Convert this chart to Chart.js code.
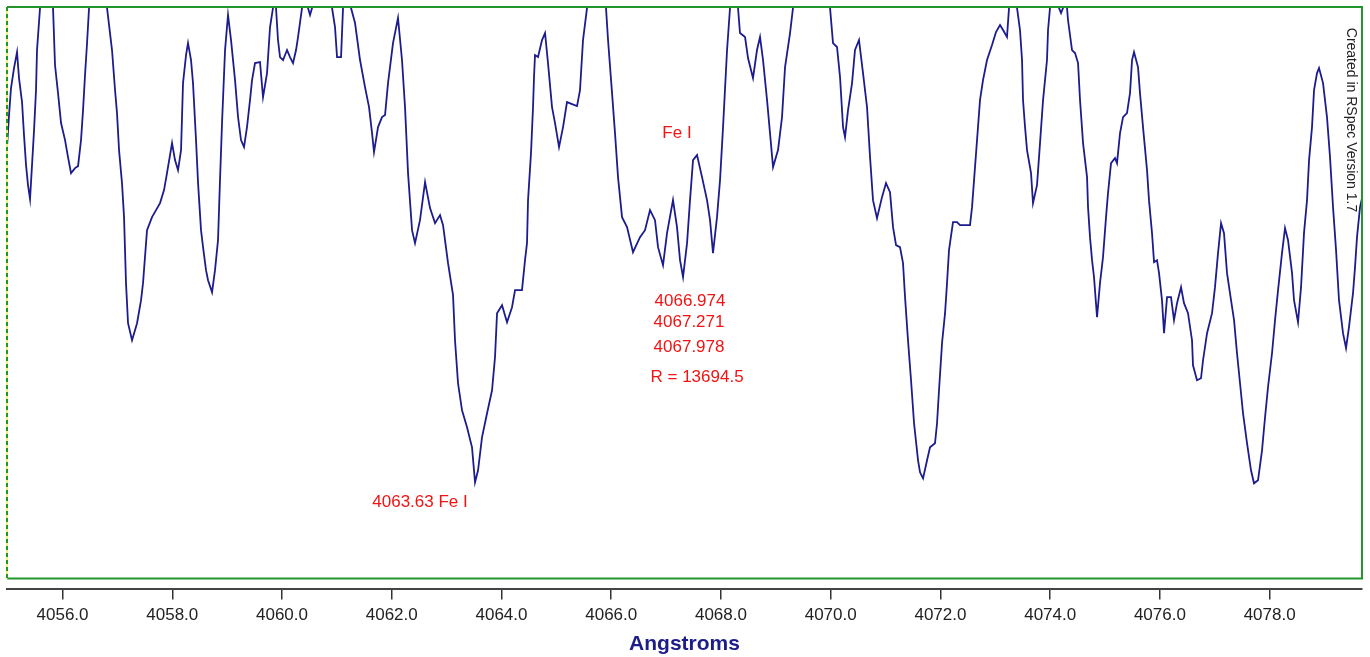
<!DOCTYPE html>
<html>
<head>
<meta charset="utf-8">
<script src="https://cdn.jsdelivr.net/npm/chart.js@4/dist/chart.umd.min.js"></script>
<style>
  html, body { margin: 0; padding: 0; background: #fff; }
  #wrap { width: 1370px; height: 657px; }
</style>
</head>
<body>
<div id="wrap"><canvas id="spec" width="1370" height="657"></canvas></div>
<script>
// Spectrum (wavelength in Angstroms, flux in arbitrary units)
const wavelength = [
  4054.988, 4055.025, 4055.061, 4055.116, 4055.171, 4055.207, 4055.262, 4055.298, 4055.335, 4055.371,
  4055.408, 4055.444, 4055.481, 4055.517, 4055.535, 4055.590, 4055.699, 4055.827, 4055.863, 4055.918,
  4055.973, 4056.046, 4056.100, 4056.155, 4056.228, 4056.283, 4056.337, 4056.374, 4056.410, 4056.447,
  4056.483, 4056.647, 4056.811, 4056.902, 4056.957, 4056.993, 4057.030, 4057.084, 4057.121, 4057.157,
  4057.194, 4057.267, 4057.358, 4057.431, 4057.467, 4057.540, 4057.631, 4057.704, 4057.777, 4057.850,
  4057.904, 4057.959, 4057.996, 4058.050, 4058.105, 4058.160, 4058.196, 4058.251, 4058.287, 4058.342,
  4058.378, 4058.433, 4058.470, 4058.524, 4058.561, 4058.615, 4058.652, 4058.725, 4058.779, 4058.834,
  4058.870, 4058.907, 4058.962, 4059.016, 4059.071, 4059.144, 4059.199, 4059.253, 4059.308, 4059.362,
  4059.417, 4059.454, 4059.508, 4059.599, 4059.654, 4059.691, 4059.727, 4059.782, 4059.836, 4059.864,
  4059.891, 4059.927, 4059.964, 4060.019, 4060.092, 4060.146, 4060.201, 4060.256, 4060.292, 4060.365,
  4060.420, 4060.474, 4060.511, 4060.547, 4060.602, 4060.784, 4060.912, 4060.966, 4061.003, 4061.076,
  4061.112, 4061.185, 4061.258, 4061.331, 4061.422, 4061.513, 4061.586, 4061.641, 4061.677, 4061.750,
  4061.823, 4061.878, 4061.932, 4062.023, 4062.114, 4062.187, 4062.242, 4062.297, 4062.370, 4062.424,
  4062.515, 4062.607, 4062.698, 4062.789, 4062.880, 4062.935, 4063.026, 4063.117, 4063.153, 4063.208,
  4063.281, 4063.372, 4063.463, 4063.518, 4063.573, 4063.645, 4063.737, 4063.828, 4063.882, 4063.919,
  4064.010, 4064.101, 4064.192, 4064.247, 4064.374, 4064.429, 4064.465, 4064.484, 4064.538, 4064.575,
  4064.593, 4064.611, 4064.666, 4064.739, 4064.794, 4064.848, 4064.921, 4064.976, 4065.049, 4065.122,
  4065.194, 4065.286, 4065.377, 4065.431, 4065.486, 4065.559, 4065.723, 4065.905, 4065.942, 4066.015,
  4066.069, 4066.124, 4066.197, 4066.288, 4066.397, 4066.525, 4066.616, 4066.707, 4066.798, 4066.853,
  4066.944, 4067.017, 4067.126, 4067.199, 4067.254, 4067.309, 4067.382, 4067.436, 4067.491, 4067.564,
  4067.655, 4067.746, 4067.801, 4067.855, 4067.928, 4067.983, 4068.038, 4068.111, 4068.165, 4068.238,
  4068.311, 4068.347, 4068.439, 4068.493, 4068.584, 4068.657, 4068.712, 4068.767, 4068.840, 4068.894,
  4068.949, 4069.040, 4069.113, 4069.168, 4069.259, 4069.313, 4069.660, 4069.988, 4070.042, 4070.115,
  4070.170, 4070.225, 4070.261, 4070.316, 4070.389, 4070.443, 4070.516, 4070.589, 4070.662, 4070.717,
  4070.771, 4070.844, 4070.935, 4071.008, 4071.081, 4071.136, 4071.191, 4071.263, 4071.318, 4071.355,
  4071.409, 4071.464, 4071.519, 4071.592, 4071.628, 4071.683, 4071.756, 4071.810, 4071.901, 4071.938,
  4071.974, 4072.029, 4072.084, 4072.120, 4072.156, 4072.229, 4072.302, 4072.357, 4072.539, 4072.576,
  4072.630, 4072.667, 4072.721, 4072.776, 4072.849, 4072.940, 4073.013, 4073.086, 4073.141, 4073.213,
  4073.250, 4073.323, 4073.396, 4073.450, 4073.487, 4073.505, 4073.542, 4073.578, 4073.651, 4073.687,
  4073.760, 4073.815, 4073.870, 4073.942, 4073.961, 4073.997, 4074.088, 4074.161, 4074.198, 4074.234,
  4074.271, 4074.307, 4074.325, 4074.398, 4074.453, 4074.508, 4074.544, 4074.599, 4074.672, 4074.690,
  4074.726, 4074.763, 4074.799, 4074.854, 4074.908, 4074.963, 4075.018, 4075.054, 4075.109, 4075.182,
  4075.218, 4075.273, 4075.328, 4075.400, 4075.455, 4075.492, 4075.528, 4075.601, 4075.637, 4075.692,
  4075.765, 4075.801, 4075.856, 4075.893, 4075.947, 4075.984, 4076.038, 4076.075, 4076.130, 4076.202,
  4076.257, 4076.312, 4076.385, 4076.439, 4076.512, 4076.585, 4076.603, 4076.676, 4076.749, 4076.786,
  4076.859, 4076.950, 4077.004, 4077.059, 4077.114, 4077.168, 4077.223, 4077.296, 4077.351, 4077.405,
  4077.460, 4077.515, 4077.588, 4077.660, 4077.715, 4077.788, 4077.861, 4077.916, 4077.970, 4078.043,
  4078.098, 4078.153, 4078.225, 4078.280, 4078.335, 4078.408, 4078.444, 4078.517, 4078.572, 4078.626,
  4078.681, 4078.718, 4078.772, 4078.809, 4078.863, 4078.900, 4078.973, 4079.045, 4079.100, 4079.155,
  4079.210, 4079.264, 4079.337, 4079.392, 4079.446, 4079.519, 4079.556, 4079.592, 4079.647, 4079.683
];

const flux = [
  431, 463, 490, 510, 526, 500, 476, 443, 413, 393,
  379, 413, 448, 488, 528, 570, 608, 570, 513, 485,
  455, 438, 421, 405, 410, 412, 438, 468, 503, 535,
  570, 618, 570, 528, 488, 465, 428, 395, 361, 295,
  255, 238, 255, 278, 295, 348, 361, 368, 375, 388,
  405, 423, 435, 418, 408, 428, 495, 523, 535, 518,
  495, 438, 395, 348, 331, 308, 298, 286, 308, 338,
  398, 455, 528, 563, 538, 498, 461, 438, 431, 451,
  478, 498, 515, 516, 481, 493, 505, 551, 570, 583,
  570, 538, 521, 518, 528, 521, 515, 528, 541, 570,
  583, 570, 563, 570, 593, 608, 570, 551, 521, 521,
  570, 593, 570, 555, 518, 491, 471, 445, 426, 451,
  461, 463, 495, 535, 560, 518, 471, 405, 348, 335,
  358, 396, 370, 355, 363, 353, 315, 283, 238, 195,
  168, 151, 131, 96, 108, 141, 165, 188, 221, 265,
  273, 256, 271, 288, 288, 318, 335, 378, 425, 471,
  501, 523, 521, 538, 545, 515, 471, 455, 431, 451,
  476, 474, 472, 488, 538, 570, 618, 570, 538, 485,
  445, 401, 361, 351, 326, 341, 348, 368, 358, 331,
  313, 345, 378, 351, 318, 301, 335, 378, 418, 423,
  401, 378, 358, 325, 361, 398, 451, 528, 570, 593,
  570, 545, 541, 520, 500, 528, 541, 518, 478, 445,
  411, 428, 461, 511, 545, 570, 638, 570, 535, 531,
  501, 451, 441, 468, 495, 528, 538, 505, 471, 421,
  378, 360, 381, 395, 386, 351, 333, 331, 315, 281,
  238, 198, 155, 118, 106, 100, 118, 131, 135, 155,
  188, 235, 265, 295, 328, 356, 356, 353, 353, 371,
  411, 438, 478, 498, 518, 533, 546, 553, 548, 541,
  570, 588, 570, 548, 518, 478, 451, 428, 405, 375,
  393, 435, 478, 518, 548, 570, 593, 570, 565, 570,
  581, 570, 558, 528, 525, 515, 478, 435, 401, 371,
  341, 318, 301, 261, 295, 321, 361, 385, 415, 420,
  415, 445, 461, 465, 485, 518, 526, 511, 485, 451,
  408, 378, 345, 316, 318, 305, 278, 245, 281, 281,
  258, 275, 291, 275, 265, 238, 213, 198, 200, 218,
  245, 265, 291, 325, 355, 345, 305, 278, 258, 225,
  195, 165, 135, 108, 95, 98, 128, 161, 191, 225,
  258, 288, 325, 350, 338, 305, 278, 256, 291, 345,
  378, 418, 451, 488, 505, 510, 495, 461, 421, 371,
  328, 278, 245, 230, 251, 285, 311, 341, 371, 380
];

const tickValues = [4056, 4058, 4060, 4062, 4064, 4066, 4068, 4070, 4072, 4074, 4076, 4078];

// red line identifications, anchored in data units
const notes = [
  { text: "Fe I", wl: 4067.199, at: 445 },
  { text: "4066.974", wl: 4067.436, at: 277 },
  { text: "4067.271", wl: 4067.418, at: 256 },
  { text: "4067.978", wl: 4067.418, at: 231 },
  { text: "R = 13694.5", wl: 4067.564, at: 201 },
  { text: "4063.63 Fe I", wl: 4062.515, at: 76 }
];

const frameAndNotes = {
    id: "frameAndNotes",
    afterDatasetsDraw(chart) {
        const { ctx, chartArea, scales } = chart;
        const bottom = scales.y.getPixelForValue(0);
        ctx.save();
        // green frame, left edge dashed
        ctx.strokeStyle = "#22962a";
        ctx.lineWidth = 2;
        ctx.beginPath();
        ctx.moveTo(chartArea.left, chartArea.top);
        ctx.lineTo(chartArea.right, chartArea.top);
        ctx.lineTo(chartArea.right, bottom);
        ctx.lineTo(chartArea.left, bottom);
        ctx.stroke();
        ctx.strokeStyle = "#f4f070";
        ctx.beginPath();
        ctx.moveTo(chartArea.left, chartArea.top);
        ctx.lineTo(chartArea.left, bottom);
        ctx.stroke();
        ctx.strokeStyle = "#22962a";
        ctx.setLineDash([4, 3]);
        ctx.stroke();
        ctx.setLineDash([]);

        // annotations
        ctx.fillStyle = "#f01414";
        ctx.font = "17px 'Liberation Sans', Arial, sans-serif";
        ctx.textAlign = "center";
        ctx.textBaseline = "middle";
        notes.forEach(n => {
            ctx.fillText(n.text, scales.x.getPixelForValue(n.wl), scales.y.getPixelForValue(n.at));
        });

        // credit, rotated down the right side
        ctx.translate(chartArea.right - 11, chartArea.top + 113);
        ctx.rotate(Math.PI / 2);
        ctx.fillStyle = "#222";
        ctx.font = "14px 'Liberation Sans', Arial, sans-serif";
        ctx.fillText("Created in RSpec Version 1.7", 0, 0);
        ctx.restore();
    }
};

new Chart(document.getElementById("spec"), {
    type: "line",
    data: {
        datasets: [{
            data: wavelength.map((w, i) => ({ x: w, y: flux[i] })),
            borderColor: "#1c1c8e",
            borderWidth: 1.8,
            pointRadius: 0,
            tension: 0,
            clip: 0
        }]
    },
    options: {
        responsive: false,
        animation: false,
        layout: { padding: { left: 7, right: 8, top: 7, bottom: 0 } },
        plugins: { legend: { display: false }, tooltip: { enabled: false } },
        scales: {
            x: {
                type: "linear",
                min: 4054.988,
                max: 4079.683,
                afterBuildTicks: s => { s.ticks = tickValues.map(v => ({ value: v })); },
                grid: { display: true, drawOnChartArea: false, tickLength: 10, color: "#333", lineWidth: 1.5 },
                border: { display: true, color: "#444", width: 2 },
                ticks: {
                    autoSkip: false,
                    maxRotation: 0,
                    padding: 6,
                    color: "#222",
                    font: { family: "'Liberation Sans', Arial, sans-serif", size: 17 },
                    callback: v => Number(v).toFixed(1)
                },
                title: {
                    display: true,
                    text: "Angstroms",
                    color: "#1c1c8a",
                    font: { family: "'Liberation Sans', Arial, sans-serif", size: 21, weight: "bold" },
                    padding: { top: 0, bottom: 0 }
                }
            },
            y: { display: false, min: -11, max: 571 }
        }
    },
    plugins: [frameAndNotes]
});
</script>
</body>
</html>
